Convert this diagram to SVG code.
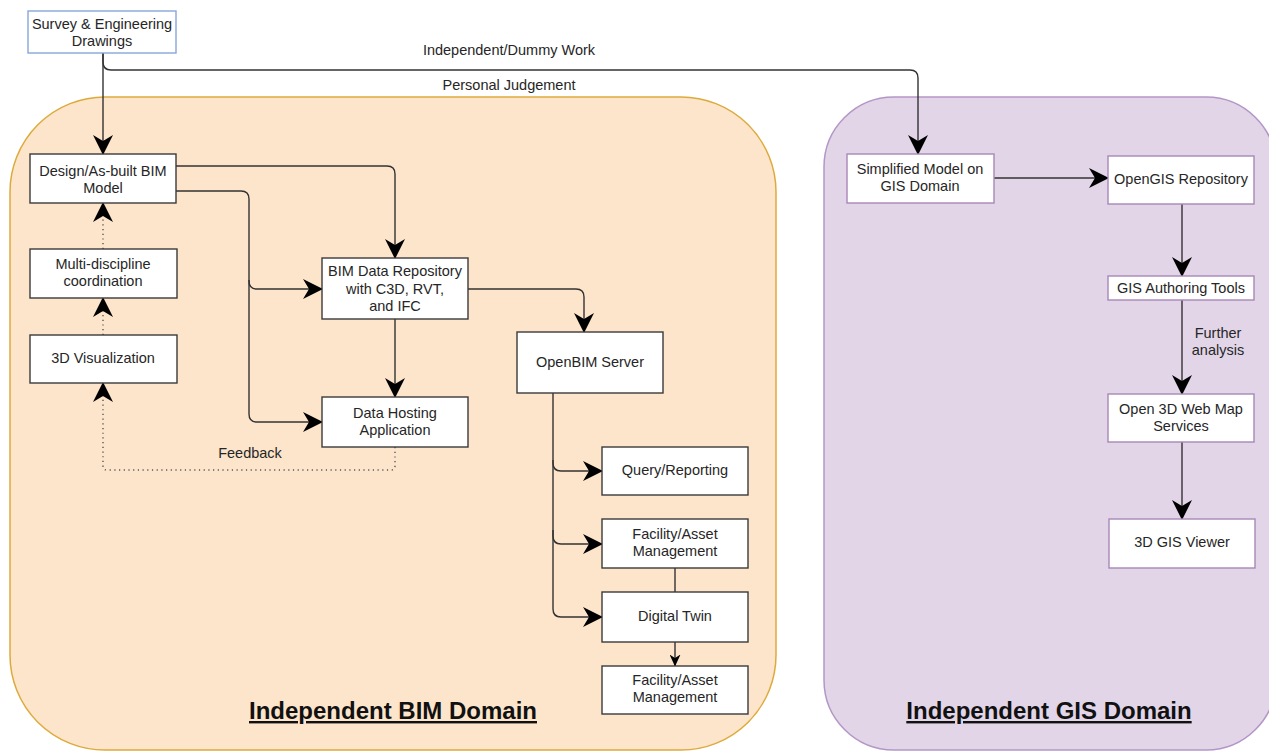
<svg xmlns="http://www.w3.org/2000/svg" width="1269" height="751" viewBox="0 0 1269 751">
<style>
text{font-family:"Liberation Sans",Arial,Helvetica,sans-serif;font-size:14.5px;fill:#262626;text-anchor:middle}
.title{font-size:24px;font-weight:bold;fill:#111;text-decoration:underline}
.box{fill:#fff;stroke:#3a3a3a;stroke-width:1.4}
.gbox{fill:#fff;stroke:#a887b8;stroke-width:1.4}
.sbox{fill:#fff;stroke:#87a7d8;stroke-width:1.4}
.c{fill:none;stroke:#333;stroke-width:1.4}
.d{fill:none;stroke:#555;stroke-width:1.4;stroke-dasharray:1.2 3.5}
</style>
<defs>
<marker id="ah" markerUnits="userSpaceOnUse" markerWidth="20" markerHeight="20" viewBox="0 0 20 20" refX="19" refY="10" orient="auto">
<path d="M0,0 L20,10 L0,20 L6,10 Z" fill="#000"/>
</marker>
<marker id="sm" markerUnits="userSpaceOnUse" markerWidth="12" markerHeight="11" viewBox="0 0 12 11" refX="11.5" refY="5.5" orient="auto">
<path d="M0,0 L12,5.5 L0,11 L3.5,5.5 Z" fill="#000"/>
</marker>
</defs>

<g id="bim-domain">
<rect x="10" y="97" width="766" height="653" rx="95" ry="95" fill="#fde5cb" stroke="#ddaa3c" stroke-width="1.5"/>
<text class="title" x="393" y="719">Independent BIM Domain</text>
</g>
<g id="gis-domain">
<rect x="824" y="97" width="452" height="653" rx="70" ry="70" fill="#e2d5e8" stroke="#b496c6" stroke-width="1.5"/>
<text class="title" x="1049" y="719">Independent GIS Domain</text>
</g>

<g id="connectors">
<path class="c" d="M103,53 L103,154" marker-end="url(#ah)"/>
<path class="c" d="M103,53 L103,62 Q103,70 111,70 L910,70 Q918,70 918,78 L918,154" marker-end="url(#ah)"/>
<text x="509" y="55">Independent/Dummy Work</text>
<text x="509" y="90">Personal Judgement</text>
<path class="c" d="M176,166 L387,166 Q395,166 395,174 L395,258" marker-end="url(#ah)"/>
<path class="c" d="M176,191 L241,191 Q249,191 249,199 L249,281 Q249,289 257,289 L322,289" marker-end="url(#ah)"/>
<path class="c" d="M249,280 L249,414 Q249,422 257,422 L322,422" marker-end="url(#ah)"/>
<path class="c" d="M395,319 L395,397" marker-end="url(#ah)"/>
<path class="c" d="M468,289 L576,289 Q584,289 584,297 L584,332" marker-end="url(#ah)"/>
<path class="d" d="M103,249 L103,203" marker-end="url(#ah)"/>
<path class="d" d="M103,335 L103,298" marker-end="url(#ah)"/>
<path class="d" d="M395,447 L395,466 Q395,470 391,470 L107,470 Q103,470 103,466 L103,383" marker-end="url(#ah)"/>
<text x="250" y="458">Feedback</text>
<path class="c" d="M553,393 L553,463 Q553,471 561,471 L602,471" marker-end="url(#ah)"/>
<path class="c" d="M553,460 L553,536 Q553,544 561,544 L602,544" marker-end="url(#ah)"/>
<path class="c" d="M553,530 L553,609 Q553,617 561,617 L602,617" marker-end="url(#ah)"/>
<path class="c" d="M675,568 L675,592"/>
<path class="c" d="M675,642 L675,666" marker-end="url(#sm)"/>
<path class="c" d="M994,178 L1108,178" marker-end="url(#ah)"/>
<path class="c" d="M1182,204 L1182,276" marker-end="url(#ah)"/>
<path class="c" d="M1182,300 L1182,394" marker-end="url(#ah)"/>
<text x="1218" y="338">Further</text>
<text x="1218" y="355">analysis</text>
<path class="c" d="M1182,442 L1182,519" marker-end="url(#ah)"/>
</g>

<g id="survey">
<rect class="sbox" x="28" y="11" width="148" height="42"/>
<text x="102" y="29">Survey &amp; Engineering</text>
<text x="102" y="46">Drawings</text>
</g>
<g id="design-model">
<rect class="box" x="30" y="154" width="146" height="49"/>
<text x="103" y="176">Design/As-built BIM</text>
<text x="103" y="193">Model</text>
</g>
<g id="multi-discipline">
<rect class="box" x="30" y="249" width="147" height="49"/>
<text x="103" y="269">Multi-discipline</text>
<text x="103" y="286">coordination</text>
</g>
<g id="visualization">
<rect class="box" x="30" y="335" width="147" height="48"/>
<text x="103" y="363">3D Visualization</text>
</g>
<g id="bim-repository">
<rect class="box" x="322" y="258" width="146" height="61"/>
<text x="395" y="276">BIM Data Repository</text>
<text x="395" y="294">with C3D, RVT,</text>
<text x="395" y="311">and IFC</text>
</g>
<g id="data-hosting">
<rect class="box" x="322" y="397" width="146" height="50"/>
<text x="395" y="418">Data Hosting</text>
<text x="395" y="435">Application</text>
</g>
<g id="openbim-server">
<rect class="box" x="517" y="332" width="146" height="61"/>
<text x="590" y="367">OpenBIM Server</text>
</g>
<g id="query-reporting">
<rect class="box" x="602" y="447" width="146" height="48"/>
<text x="675" y="475">Query/Reporting</text>
</g>
<g id="facility-asset-1">
<rect class="box" x="602" y="519" width="146" height="49"/>
<text x="675" y="539">Facility/Asset</text>
<text x="675" y="556">Management</text>
</g>
<g id="digital-twin">
<rect class="box" x="602" y="592" width="146" height="50"/>
<text x="675" y="621">Digital Twin</text>
</g>
<g id="facility-asset-2">
<rect class="box" x="602" y="666" width="146" height="48"/>
<text x="675" y="685">Facility/Asset</text>
<text x="675" y="702">Management</text>
</g>

<g id="simplified-model">
<rect class="gbox" x="847" y="154" width="147" height="49"/>
<text x="920" y="174">Simplified Model on</text>
<text x="920" y="191">GIS Domain</text>
</g>
<g id="opengis-repository">
<rect class="gbox" x="1108" y="156" width="146" height="48"/>
<text x="1181" y="184">OpenGIS Repository</text>
</g>
<g id="gis-authoring">
<rect class="gbox" x="1108" y="276" width="146" height="24"/>
<text x="1181" y="293">GIS Authoring Tools</text>
</g>
<g id="web-map-services">
<rect class="gbox" x="1108" y="394" width="146" height="48"/>
<text x="1181" y="414">Open 3D Web Map</text>
<text x="1181" y="431">Services</text>
</g>
<g id="gis-viewer">
<rect class="gbox" x="1109" y="519" width="146" height="49"/>
<text x="1182" y="547">3D GIS Viewer</text>
</g>
</svg>
